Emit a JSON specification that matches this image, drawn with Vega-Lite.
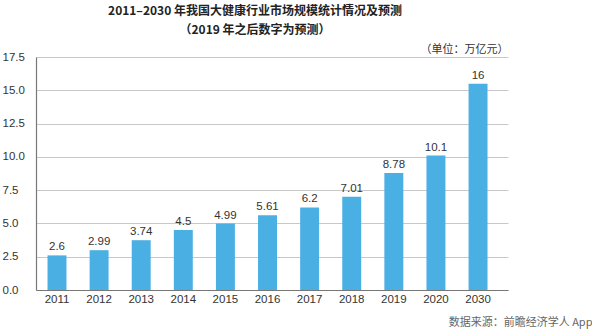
{
  "$schema": "https://vega.github.io/schema/vega-lite/v6.json",
  "autosize": {"type": "none"},
  "width": 472,
  "height": 233,
  "padding": {"left": 36, "top": 57, "right": 84, "bottom": 41},
  "background": "white",
  "title": {
    "text": "2011–2030 年我国大健康行业市场规模统计情况及预测",
    "subtitle": "（2019 年之后数字为预测）",
    "anchor": "middle",
    "frame": "group",
    "dx": -17,
    "offset": 6,
    "font": "Noto Sans CJK SC",
    "fontSize": 12,
    "fontWeight": "bold",
    "color": "#222222",
    "subtitleFont": "Noto Sans CJK SC",
    "subtitleFontSize": 12,
    "subtitleFontWeight": "bold",
    "subtitleColor": "#222222",
    "subtitlePadding": 7
  },
  "config": {
    "view": {"stroke": null},
    "font": "Liberation Sans"
  },
  "data": {
    "values": [
      {"year": "2011", "value": 2.6, "label": "2.6"},
      {"year": "2012", "value": 2.99, "label": "2.99"},
      {"year": "2013", "value": 3.74, "label": "3.74"},
      {"year": "2014", "value": 4.5, "label": "4.5"},
      {"year": "2015", "value": 4.99, "label": "4.99"},
      {"year": "2016", "value": 5.61, "label": "5.61"},
      {"year": "2017", "value": 6.2, "label": "6.2"},
      {"year": "2018", "value": 7.01, "label": "7.01"},
      {"year": "2019", "value": 8.78, "label": "8.78"},
      {"year": "2020", "value": 10.1, "label": "10.1"},
      {"year": "2030", "value": 15.5, "label": "16"}
    ]
  },
  "encoding": {
    "x": {
      "field": "year",
      "type": "ordinal",
      "sort": null,
      "scale": {"paddingInner": 0.55, "paddingOuter": 0.38, "align": 0.36},
      "axis": {
        "title": "数据来源：前瞻经济学人 App",
        "titleFont": "Noto Sans CJK SC",
        "titleFontSize": 11,
        "titleFontWeight": "normal",
        "titleColor": "#666666",
        "titleX": 556,
        "titleY": 37,
        "titleAlign": "right",
        "titleBaseline": "bottom",
        "labelAngle": 0,
        "labelFontSize": 11.5,
        "labelColor": "#333333",
        "labelPadding": 3,
        "ticks": false,
        "domainColor": "#777777",
        "domainWidth": 1.2
      }
    },
    "y": {
      "field": "value",
      "type": "quantitative",
      "scale": {"domain": [0, 17.5], "nice": false},
      "axis": {
        "values": [0, 2.5, 5, 7.5, 10, 12.5, 15, 17.5],
        "format": ".1f",
        "title": "（单位：万亿元）",
        "titleFont": "Noto Sans CJK SC",
        "titleFontSize": 11,
        "titleFontWeight": "normal",
        "titleColor": "#333333",
        "titleAngle": 0,
        "titleX": 472,
        "titleY": -3,
        "titleAlign": "right",
        "titleBaseline": "bottom",
        "labelAlign": "left",
        "labelPadding": 34,
        "labelFontSize": 11.5,
        "labelColor": "#333333",
        "ticks": false,
        "domainColor": "#777777",
        "domainWidth": 1.2,
        "grid": true,
        "gridColor": "#c8c8c8",
        "gridWidth": 1
      }
    }
  },
  "layer": [
    {"mark": {"type": "bar", "color": "#4aafe3"}},
    {
      "mark": {"type": "text", "baseline": "bottom", "dy": -3, "fontSize": 11.5, "color": "#333333"},
      "encoding": {"text": {"field": "label"}}
    }
  ]
}
